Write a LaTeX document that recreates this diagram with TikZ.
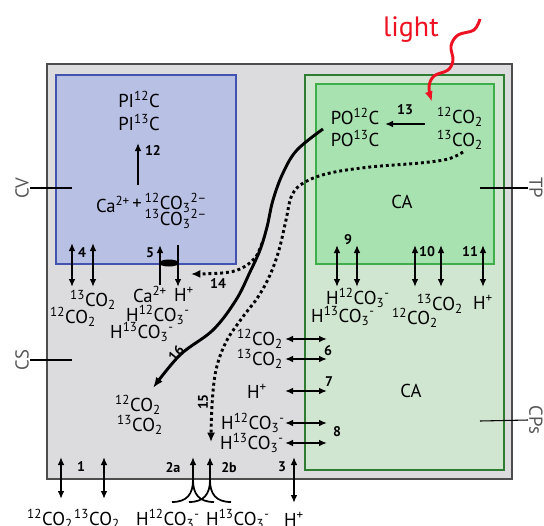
\documentclass[tikz,border=0pt]{standalone}
\usepackage{fontspec}
\setmainfont{PT Sans}
\usetikzlibrary{arrows.meta}

\definecolor{cellgray}{HTML}{DCDCDE}
\definecolor{cellline}{HTML}{4D4D4D}
\definecolor{vacfill}{HTML}{B8C0E4}
\definecolor{vacline}{HTML}{4353B0}
\definecolor{cpsfill}{HTML}{D0E6D0}
\definecolor{cpsline}{HTML}{2E7D32}
\definecolor{tpfill}{HTML}{A8E2B0}
\definecolor{tpline}{HTML}{3DAE4A}
\definecolor{lightred}{HTML}{EE1122}
\definecolor{sidegray}{HTML}{555555}

\newcommand{\iso}[1]{\textsuperscript{#1}}
\newcommand{\ix}[1]{\textsubscript{#1}}

\tikzset{
  chem/.style={inner sep=0.75pt, font=\fontsize{14}{16}\selectfont},
  num/.style={inner sep=0.75pt, font=\fontsize{10.5}{12}\selectfont\bfseries},
  side/.style={inner sep=0.75pt, text=sidegray, font=\fontsize{14}{16}\selectfont},
  tick/.style={line width=0.8pt},
  dbl/.style={{Latex[length=6pt,width=5pt]}-{Latex[length=6pt,width=5pt]}, line width=1.3pt},
  sgl/.style={-{Latex[length=6pt,width=5pt]}, line width=1.3pt},
  dots/.style={line width=2.2pt, dash pattern=on 2.2pt off 2.2pt, -{Latex[length=7pt,width=6pt]}},
  flux/.style={line width=2.2pt, -{Latex[length=8pt,width=6pt]}}
}

\begin{document}
\begin{tikzpicture}[x=0.75pt,y=0.75pt,yscale=-1,xscale=1]
\useasboundingbox (0,0) rectangle (544,526);

% compartments
\draw[line width=2.2pt, draw=cellline, fill=cellgray] (47,64) rectangle (512,479);
\draw[line width=1.9pt, draw=vacline, fill=vacfill] (56,75) rectangle (236,264);
\draw[line width=2.2pt, draw=cpsline, fill=cpsfill] (305,75) rectangle (504,470);
\draw[line width=1.9pt, draw=tpline, fill=tpfill] (316,84) rectangle (494,264);

% side labels
\node[side, rotate=90] (cv) at (22,188) {CV};
\node[side, rotate=90] (cs) at (22,360) {CS};
\node[side, rotate=-90] (tp) at (536,188) {TP};
\node[side, rotate=-90] (cps) at (536,420) {CPs};
\coordinate (cvt) at (72,188);
\coordinate (cst) at (72,360);
\coordinate (tpt) at (480,188);
\coordinate (cpst) at (480,421);
\draw[tick] (cv.south) -- (cvt);
\draw[tick] (cs.south) -- (cst);
\draw[tick] (tp.south) -- (tpt);
\draw[tick] (cps.south) -- (cpst);

% light
\node[inner sep=0.75pt, text=lightred, font=\fontsize{21}{24}\selectfont] (light) at (411,30) {light};
\draw[line width=2.2pt, lightred, -{Latex[length=8pt,width=6pt]}] plot[smooth, tension=0.6] coordinates {(480,19) (474,30) (458,35) (451,46) (453,60) (448,70) (434,76) (429,87) (432,102)};

% vacuole
\node[chem] (pi12) at (139,99) {PI\iso{12}C};
\node[chem] (pi13) at (139,122) {PI\iso{13}C};
\node[chem] (ca) at (113,204) {Ca\iso{2+}};
\node[chem] (plus) at (137,204) {+};
\node[chem] (cotw) at (176,203) {\iso{12}CO\ix{3}\iso{2--}};
\node[chem] (coth) at (176,219) {\iso{13}CO\ix{3}\iso{2--}};
\coordinate (r12a) at (138,185);
\coordinate (r12b) at (138,143);
\draw[sgl] (r12a) -- (r12b);
\node[num] (n12) at (153,150) {12};

% vacuole exchange
\coordinate (v4at) at (72,243);
\coordinate (v4ab) at (72,287);
\coordinate (v4bt) at (93,243);
\coordinate (v4bb) at (93,287);
\draw[dbl] (v4at) -- (v4ab);
\draw[dbl] (v4bt) -- (v4bb);
\node[num] (n4) at (82,253) {4};
\node[chem] (vco13) at (93,300) {\iso{13}CO\ix{2}};
\node[chem] (vco12) at (73,317) {\iso{12}CO\ix{2}};

\coordinate (v5ab) at (160,285);
\coordinate (v5at) at (160,245);
\coordinate (v5bt) at (178,245);
\coordinate (v5bb) at (178,287);
\draw[sgl] (v5ab) -- (v5at);
\draw[sgl] (v5bt) -- (v5bb);
\fill (169,263) ellipse [x radius=10, y radius=3.5];
\node[num] (n5) at (150,253) {5};
\node[chem] (vca) at (150,294) {Ca\iso{2+}};
\node[chem] (vh) at (184,294) {H\iso{+}};
\node[chem] (vhc12) at (158,315) {H\iso{12}CO\ix{3}\iso{-}};
\node[chem] (vhc13) at (142,332) {H\iso{13}CO\ix{3}\iso{-}};

% thylakoid pyrenoid
\node[chem] (po12) at (355,116) {PO\iso{12}C};
\node[chem] (po13) at (355,138) {PO\iso{13}C};
\node[chem] (tco12) at (460,117) {\iso{12}CO\ix{2}};
\node[chem] (tco13) at (460,140) {\iso{13}CO\ix{2}};
\coordinate (r13a) at (425,124);
\coordinate (r13b) at (385,124);
\draw[sgl] (r13a) -- (r13b);
\node[num] (n13) at (405,110) {13};
\node[chem] (tca) at (402,202) {CA};

\foreach \nm/\x in {9a/337,9b/357,10a/415,10b/441,11/483}{
  \coordinate (t\nm t) at (\x,245);
  \coordinate (t\nm b) at (\x,287);
  \draw[dbl] (t\nm t) -- (t\nm b);
}
\node[num] (n9) at (348,240) {9};
\node[num] (n10) at (427,252) {10};
\node[num] (n11) at (470,252) {11};
\node[chem] (thc12) at (358,298) {H\iso{12}CO\ix{3}\iso{-}};
\node[chem] (thc13) at (343,316) {H\iso{13}CO\ix{3}\iso{-}};
\node[chem] (tco13b) at (440,304) {\iso{13}CO\ix{2}};
\node[chem] (tco12b) at (415,318) {\iso{12}CO\ix{2}};
\node[chem] (th) at (483,302) {H\iso{+}};

% chloroplast stroma
\node[chem] (cca) at (411,391) {CA};
\foreach \nm/\y in {6a/339,6b/359,7/391,8a/423,8b/443}{
  \coordinate (c\nm l) at (285,\y);
  \coordinate (c\nm r) at (327,\y);
  \draw[dbl] (c\nm l) -- (c\nm r);
}
\node[num] (n6) at (328,351) {6};
\node[num] (n7) at (329,382) {7};
\node[num] (n8) at (337,432) {8};
\node[chem] (cco12) at (260,339) {\iso{12}CO\ix{2}};
\node[chem] (cco13) at (260,359) {\iso{13}CO\ix{2}};
\node[chem] (ch) at (257,391) {H\iso{+}};
\node[chem] (chc12) at (253,423) {H\iso{12}CO\ix{3}\iso{-}};
\node[chem] (chc13) at (252,443) {H\iso{13}CO\ix{3}\iso{-}};

% cytosol
\node[chem] (sco12) at (138,405) {\iso{12}CO\ix{2}};
\node[chem] (sco13) at (140,425) {\iso{13}CO\ix{2}};

% fluxes 14, 15, 16
\coordinate (f16a) at (323,129);
\coordinate (f16b) at (153,388);
\draw[flux] plot[smooth, tension=0.6] coordinates {(f16a) (297,150) (283,173) (273,200) (267,227) (260,250) (250,272) (236,300) (213,330) (180,355) (f16b)};
\node[num, rotate=50] (n16) at (176,353) {16};
\coordinate (f15a) at (463,152);
\coordinate (f15b) at (211,442);
\draw[dots] plot[smooth, tension=0.6] coordinates {(f15a) (448,159) (420,163) (370,167) (330,173) (305,182) (292,195) (286,220) (279,250) (270,275) (258,297) (242,318) (226,342) (216,370) (212,405) (f15b)};
\node[num, rotate=90] (n15) at (203,402) {15};
\coordinate (f14a) at (262,243);
\coordinate (f14b) at (191,274);
\draw[dots] plot[smooth, tension=0.6] coordinates {(f14a) (255,258) (240,269) (222,273) (f14b)};
\node[num] (n14) at (218,284) {14};

% external medium
\foreach \nm/\x in {1a/61,1b/104}{
  \coordinate (e\nm t) at (\x,457);
  \coordinate (e\nm b) at (\x,499);
  \draw[dbl] (e\nm t) -- (e\nm b);
}
\node[num] (n1) at (81,467) {1};
\coordinate (e3t) at (294,457);
\coordinate (e3b) at (294,503);
\draw[dbl] (e3t) -- (e3b);
\node[num] (n3) at (282,467) {3};
\foreach \nm/\x in {2a/193,2b/210}{
  \coordinate (e\nm t) at (\x,457);
  \draw[sgl] (\x-21,502) .. controls (\x-6,502) and (\x,494) .. (\x,480) -- (e\nm t);
  \draw[line width=1.3pt] (\x+21,502) .. controls (\x+6,502) and (\x,494) .. (\x,480);
}
\node[num] (n2a) at (173,468) {2a};
\node[num] (n2b) at (229,468) {2b};
\node[chem] (eco12) at (50,519) {\iso{12}CO\ix{2}};
\node[chem] (eco13) at (97,519) {\iso{13}CO\ix{2}};
\node[chem] (ehc12) at (168,519) {H\iso{12}CO\ix{3}\iso{-}};
\node[chem] (ehc13) at (238,519) {H\iso{13}CO\ix{3}\iso{-}};
\node[chem] (eh) at (294,519) {H\iso{+}};
\end{tikzpicture}
\end{document}
